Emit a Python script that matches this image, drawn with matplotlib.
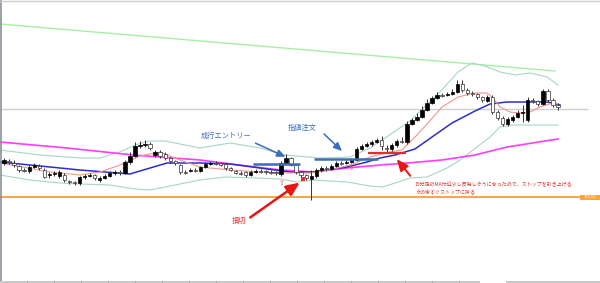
import matplotlib
matplotlib.use("Agg")
import matplotlib.pyplot as plt
import numpy as np

plt.rcParams['font.family'] = ['Noto Sans CJK JP', 'DejaVu Sans']

# candles: open / high / low / close (chart rows, smaller = higher price)
opens = [163, 161, 163, 166, 170, 171, 167, 166, 170, 175, 174, 176, 175, 181, 182, 183, 177, 176, 175, 180,
         178, 176, 173, 172, 173, 162, 156, 146, 145, 144, 155, 152, 154, 158, 161, 165, 172, 171, 170, 171,
         167, 164, 163, 163, 164, 168, 171, 173, 172, 175, 172, 171, 171, 172, 172, 174, 163, 158, 165, 172,
         175, 179, 176, 170, 168, 169, 166, 163, 163, 162, 160, 149, 146, 144, 142, 140, 148, 149, 145, 141,
         142, 124, 120, 117, 110, 103, 98, 95, 95, 94, 92, 84, 90, 93, 94, 97, 101, 97, 112, 118,
         124, 120, 117, 113, 120, 100, 101, 104, 91, 100, 105]
closes = [160, 162, 165, 170, 170, 167, 165, 168, 177, 174, 173, 172, 180, 182, 183, 177, 176, 175, 178, 178,
          176, 173, 172, 173, 162, 156, 146, 145, 144, 148, 152, 156, 158, 161, 163, 172, 172, 170, 170, 167,
          164, 163, 163, 165, 168, 170, 173, 173, 175, 172, 171, 171, 172, 172, 173, 163, 158, 165, 172, 175,
          178, 176, 170, 168, 169, 166, 163, 163, 162, 160, 149, 146, 144, 142, 140, 146, 149, 145, 141, 141,
          124, 120, 117, 110, 103, 98, 95, 95, 94, 92, 84, 90, 93, 94, 97, 100, 97, 112, 118, 124,
          119, 117, 113, 112, 100, 101, 104, 91, 100, 105, 107]
highs = [158, 159, 160, 165, 168, 165, 163, 164, 168, 172, 171, 170, 173, 180, 181, 176, 174, 173, 174, 176,
         174, 171, 170, 170, 160, 152, 142, 141, 140, 142, 150, 150, 152, 157, 160, 164, 170, 168, 168, 166,
         162, 161, 161, 162, 163, 167, 170, 171, 171, 170, 169, 169, 170, 170, 171, 161, 154, 157, 164, 171,
         174, 170, 168, 166, 166, 164, 161, 161, 160, 158, 147, 144, 142, 140, 138, 136, 145, 143, 139, 137,
         121, 118, 113, 106, 99, 96, 92, 93, 92, 89, 80, 80, 88, 91, 93, 96, 95, 95, 110, 116,
         117, 115, 110, 105, 97, 98, 100, 89, 89, 98, 103]
lows = [165, 164, 167, 172, 172, 173, 168, 170, 178, 178, 176, 178, 182, 184, 185, 185, 179, 177, 180, 182,
        179, 177, 175, 175, 174, 164, 157, 148, 147, 150, 157, 158, 160, 163, 165, 174, 174, 172, 172, 172,
        168, 165, 165, 166, 170, 171, 174, 175, 177, 176, 173, 173, 174, 174, 175, 176, 164, 166, 174, 177,
        180, 200, 178, 172, 171, 170, 167, 165, 164, 163, 161, 150, 147, 146, 143, 150, 152, 151, 147, 143,
        144, 125, 121, 118, 111, 104, 99, 97, 96, 95, 93, 92, 95, 96, 99, 102, 102, 114, 120, 126,
        126, 122, 118, 122, 122, 103, 106, 105, 102, 107, 110]

# indicator lines (screen x, row)
ma_short_x = [0, 50, 80, 100, 120, 140, 160, 180, 200, 230, 260, 290, 310, 330, 350, 370, 390, 402, 415, 428,
              442, 458, 475, 487, 493, 500, 510, 520, 530, 540, 553, 558]
ma_short_y = [163, 172, 175, 172, 165, 156, 152, 160, 167, 170, 172, 173, 173, 170, 165, 157, 152, 150, 137, 123,
              107, 97, 93, 93, 98, 107, 112, 113, 112, 107, 103, 104]
ma_blue_x = [0, 40, 80, 130, 140, 167, 200, 230, 260, 290, 313, 347, 367, 380, 395, 415, 432, 452, 475, 490, 507, 547, 560]
ma_blue_y = [162, 166, 170, 174, 171, 163, 163, 164, 168, 172, 172, 167, 162, 158, 155, 149, 137, 123, 111, 104, 102, 102, 105]
ma_pink_x = [0, 67, 133, 200, 247, 280, 313, 347, 380, 408, 442, 475, 507, 558]
ma_pink_y = [142, 148, 155, 160, 166, 170, 172, 168, 165, 163, 160, 155, 147, 139]
bb_up_x = [0, 40, 80, 100, 120, 135, 150, 165, 185, 200, 230, 260, 285, 320, 350, 370, 385, 410, 440, 458,
           472, 485, 500, 515, 530, 547, 558]
bb_up_y = [150, 155, 158, 158, 152, 145, 141, 141, 145, 148, 143, 148, 155, 158, 157, 148, 138, 121, 92, 72,
           63, 66, 72, 75, 73, 77, 85]
bb_lo_x = [0, 30, 60, 80, 110, 135, 150, 165, 185, 200, 225, 257, 280, 297, 313, 347, 370, 383, 398, 410,
           427, 447, 460, 473, 490, 500, 513, 558]
bb_lo_y = [175, 180, 183, 184, 185, 189, 190, 187, 183, 180, 177, 178, 179, 182, 180, 182, 186, 187, 182, 178,
           177, 168, 160, 150, 137, 127, 125, 125]
trend_x = [0, 555]
trend_y = [24, 71]

fig = plt.figure(figsize=(6, 2.83), dpi=100)
ax = fig.add_axes([0, 0, 1, 1])
ax.set_xlim(0, 600)
ax.set_ylim(283, 0)
ax.axis('off')

# fixed levels
ax.plot(trend_x, trend_y, color='#a6f0a6', lw=1.0)
ax.hlines(109, 0, 588, color='#cfcfcf', lw=1.0)
ax.hlines(197, 0, 580, color='#ffa43a', lw=1.4)
ax.add_patch(plt.Rectangle((580, 194.5), 20, 5, color='#ffa43a', lw=0))
ax.text(590, 197.2, '113.50', fontsize=2.6, color='white', ha='center', va='center', family='DejaVu Sans')

ax.plot(bb_up_x, bb_up_y, color='#a9d6bf', lw=0.8)
ax.plot(bb_lo_x, bb_lo_y, color='#a9d6bf', lw=0.8)
ax.plot(ma_pink_x, ma_pink_y, color='#ff3cff', lw=1.2)
ax.plot(ma_blue_x, ma_blue_y, color='#2d2dcc', lw=1.1)
ax.plot(ma_short_x, ma_short_y, color='#f4948e', lw=0.8)

# candles
n = len(opens)
xs = 4 + 5.036 * np.arange(n)
o = np.array(opens); c = np.array(closes)
ax.vlines(xs, highs, lows, color='#333333', lw=0.7, zorder=3)
up = c < o
bottoms = np.minimum(o, c)
heights = np.maximum(np.abs(o - c), 0.8)
ax.bar(xs[up], heights[up], bottom=bottoms[up], width=3.3, color='black', edgecolor='black', lw=0.5, zorder=4)
ax.bar(xs[~up], heights[~up], bottom=bottoms[~up], width=3.3, color='white', edgecolor='#333333', lw=0.5, zorder=4)

# trade lines
ax.hlines(163.5, 253, 300, color='#3d6db5', lw=1.8, zorder=5)
ax.hlines(158.5, 314, 378, color='#3d6db5', lw=1.8, zorder=5)
ax.hlines(153, 368, 406, color='#e23030', lw=1.6, zorder=5)

# markers
ax.text(282, 183, '⇧', fontsize=5, color='#ff5050', ha='center', va='center', family='DejaVu Sans', zorder=6)
ax.text(352, 168, '⇧', fontsize=4.5, color='#ff5050', ha='center', va='center', family='DejaVu Sans', zorder=6)
ax.add_patch(plt.Rectangle((301, 176.5), 4, 4, color='#e23030', lw=0, zorder=6))

# annotations
blue = '#3a6cc0'
ax.text(226, 136, '成行エントリー', fontsize=5.2, color=blue, ha='center', va='center')
ax.text(302, 128, '指値注文', fontsize=5.2, color=blue, ha='center', va='center')
ax.annotate('', xy=(288, 158), xytext=(253, 142),
            arrowprops=dict(arrowstyle='-|>,head_length=0.5,head_width=0.22', color=blue, lw=1.1))
ax.annotate('', xy=(344, 153), xytext=(322, 132),
            arrowprops=dict(arrowstyle='-|>,head_length=0.5,head_width=0.22', color=blue, lw=1.1))

red = '#e81515'
ax.text(239, 221, '損切', fontsize=5.2, color='#e83030', ha='center', va='center')
ax.annotate('', xy=(302, 181), xytext=(248, 219),
            arrowprops=dict(arrowstyle='-|>,head_length=0.8,head_width=0.35', color=red, lw=1.8))
ax.annotate('', xy=(395, 157), xytext=(412, 178),
            arrowprops=dict(arrowstyle='-|>,head_length=0.7,head_width=0.3', color=red, lw=1.4))
ax.text(415, 185, '15分足のMA付近少し反発しそうになったので、ストップを引き上げる', fontsize=3.6, color='#e83030',
        ha='left', va='center')
ax.text(415, 193, 'その後すぐストップに掛る', fontsize=3.6, color='#e83030', ha='left', va='center')

# window frame
ax.vlines(1, 0, 281, color='#8a9199', lw=1.2)
ax.hlines(1, 0, 600, color='#d0d0d0', lw=1.0)
ax.add_patch(plt.Rectangle((0, 280.5), 600, 2.5, color='#c8c8c8', lw=0))
ax.add_patch(plt.Rectangle((480, 280.3), 26, 3, color='white', lw=0))
for tx in range(27, 480, 27):
    ax.vlines(tx, 280.5, 283, color='#9a9a9a', lw=0.6)

fig.savefig('out.png', dpi=100)
